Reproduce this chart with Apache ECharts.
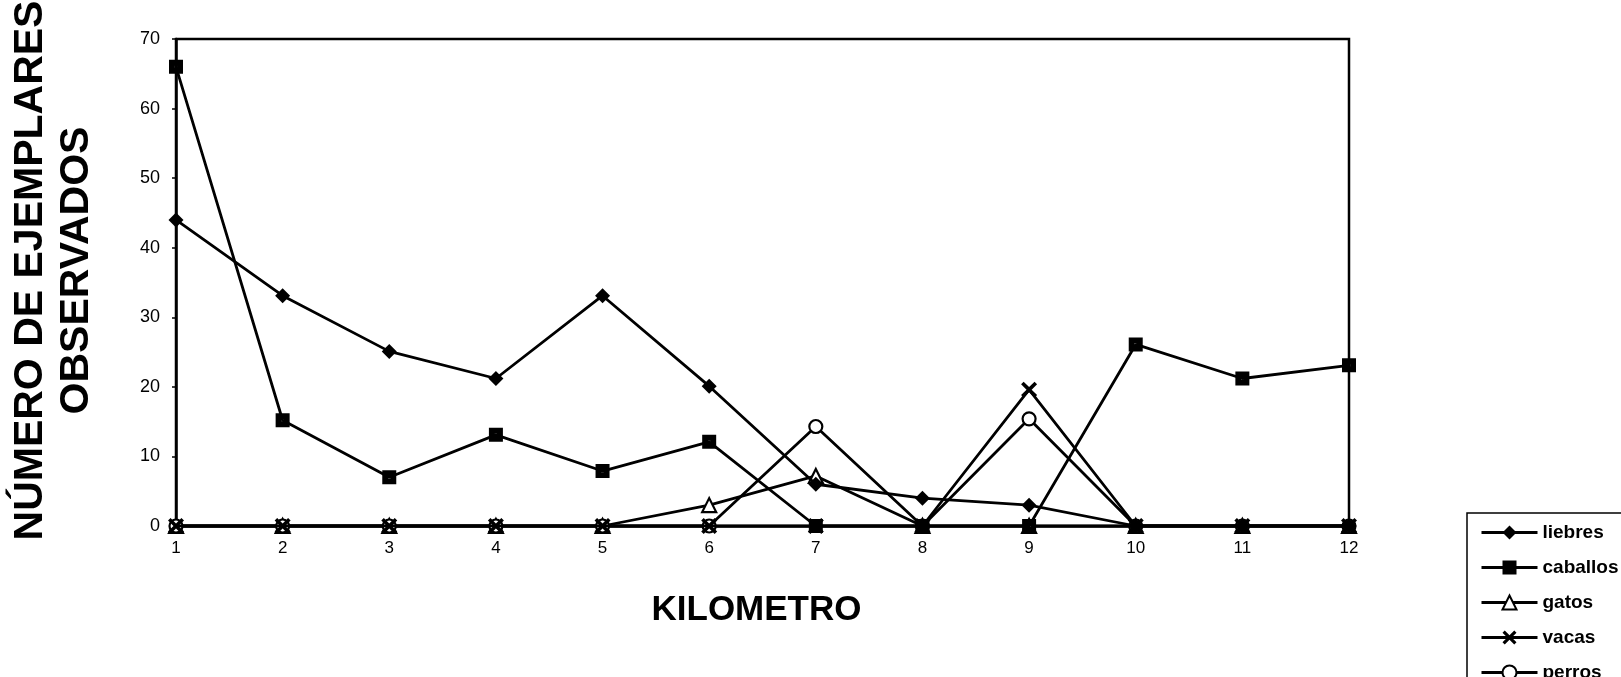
<!DOCTYPE html>
<html>
<head>
<meta charset="utf-8">
<script src="https://cdn.jsdelivr.net/npm/echarts@6/dist/echarts.min.js"></script>
<style>
html,body{margin:0;padding:0;background:#fff;}
#c{width:1621px;height:677px;}
</style>
</head>
<body>
<div id="c"></div>
<script>
const kilometros = ['1','2','3','4','5','6','7','8','9','10','11','12'];
const liebres  = [44, 33.1, 25.1, 21.2, 33.1, 20.1, 6, 4, 3, 0, 0, 0];
const caballos = [66, 15.2, 7, 13.1, 7.9, 12.1, 0, 0, 0, 26.1, 21.2, 23.1];
const gatos    = [0, 0, 0, 0, 0, 3, 7.2, 0, 0, 0, 0, 0];
const vacas    = [0, 0, 0, 0, 0, 0, 0, 0, 19.6, 0, 0, 0];
const perros   = [0, 0, 0, 0, 0, 0, 14.3, 0, 15.4, 0, 0, 0];
const yTicks = {min: 0, max: 70, interval: 10};

const FONT = '"Liberation Sans", Arial, sans-serif';
const xSym = 'path://M0,1.6L1.6,0L5,3.4L8.4,0L10,1.6L6.6,5L10,8.4L8.4,10L5,6.6L1.6,10L0,8.4L3.4,5Z';
const sqSym = 'path://M0,0L10,0L10,10L0,10Z M4.2,4.2L4.2,5.8L5.8,5.8L5.8,4.2Z';

function line(name, data, symbol, size, z, extra) {
  return Object.assign({
    name: name, type: 'line', data: data,
    symbol: symbol, symbolSize: size,
    showAllSymbol: true, z: z,
    lineStyle: {color: '#000', width: 2.8},
    itemStyle: {color: '#000', borderColor: '#000', borderWidth: 0},
    emphasis: {disabled: true},
    animation: false
  }, extra || {});
}

const chart = echarts.init(document.getElementById('c'), null, {renderer: 'canvas'});
chart.setOption({
  backgroundColor: '#fff',
  animation: false,
  grid: {left: 176, right: 272, top: 39, bottom: 151, outerBoundsMode: 'none', containLabel: false,
         show: true, borderColor: '#000', borderWidth: 2.5, backgroundColor: 'transparent'},
  xAxis: {
    type: 'category', data: kilometros, boundaryGap: false,
    axisLine: {lineStyle: {color: '#000', width: 2.5}},
    axisTick: {show: false},
    axisLabel: {color: '#000', fontSize: 17, fontFamily: FONT, margin: 14},
    name: 'KILOMETRO', nameLocation: 'middle', nameGap: 67,
    nameTextStyle: {color: '#000', fontSize: 35, fontWeight: 'bold', fontFamily: FONT, padding: [0, 12, 0, 0]},
    splitLine: {show: false}
  },
  yAxis: {
    type: 'value', min: yTicks.min, max: yTicks.max, interval: yTicks.interval,
    axisLine: {show: true, lineStyle: {color: '#000', width: 2.5}},
    axisTick: {show: true, length: 4, lineStyle: {color: '#000', width: 1.5}},
    axisLabel: {color: '#000', fontSize: 18, fontFamily: FONT, margin: 16},
    splitLine: {show: false},
    name: 'NÚMERO DE EJEMPLARES\nOBSERVADOS', nameLocation: 'middle', nameGap: 76, nameRotate: 90,
    nameTextStyle: {color: '#000', fontSize: 41, fontWeight: 'bold', fontFamily: FONT, lineHeight: 46, align: 'center', padding: [0, 0, 0, 24]}
  },
  legend: {
    orient: 'vertical', left: 1467, top: 513, height: 240,
    itemWidth: 56, itemHeight: 17.5, itemGap: 16,
    padding: [10, 30, 30, 13],
    borderColor: '#000', borderWidth: 1.5,
    lineStyle: {color: '#000', width: 3},
    textStyle: {color: '#000', fontSize: 19, fontWeight: 'bold', fontFamily: FONT},
    selectedMode: false,
    data: ['liebres', 'caballos', 'gatos', 'vacas', 'perros']
  },
  series: [
    line('gatos', gatos, 'triangle', 14, 2, {itemStyle: {color: '#fff', borderColor: '#000', borderWidth: 2.2}}),
    line('perros', perros, 'circle', 13, 2, {itemStyle: {color: '#fff', borderColor: '#000', borderWidth: 2.2}}),
    line('vacas', vacas, xSym, 16, 3),
    line('liebres', liebres, 'diamond', 15, 4),
    line('caballos', caballos, sqSym, 14, 5)
  ]
});
</script>
</body>
</html>
